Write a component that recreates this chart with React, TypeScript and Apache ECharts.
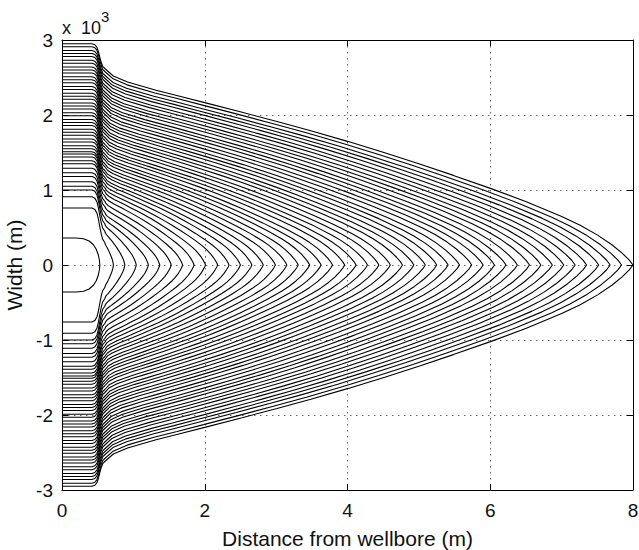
import React, { useEffect, useRef } from "react";
import * as echarts from "echarts";

// Tip position (m) of each width profile, innermost first
const TIP_L = [
  0.53, 0.72, 0.88, 1.04, 1.21, 1.37, 1.53, 1.69, 1.85, 2.01, 2.18, 2.34, 2.5, 2.66,
  2.82, 2.99, 3.15, 3.31, 3.47, 3.63, 3.79, 3.96, 4.12, 4.28, 4.44, 4.6, 4.77, 4.93,
  5.09, 5.25, 5.41, 5.57, 5.74, 5.9, 6.06, 6.22, 6.38, 6.55, 6.71, 6.87, 7.03, 7.19,
  7.35, 7.52, 7.68, 7.84, 8.0,
];
// Width at the wellbore (flat part, x < 0.45 m)
const WELL_W = [
  0.36, 0.76, 0.91, 1.0, 1.05, 1.11, 1.18, 1.23, 1.29, 1.35, 1.39, 1.44, 1.48, 1.51,
  1.55, 1.59, 1.64, 1.68, 1.73, 1.77, 1.81, 1.86, 1.9, 1.94, 1.99, 2.03, 2.08, 2.12,
  2.16, 2.21, 2.25, 2.29, 2.34, 2.38, 2.43, 2.47, 2.51, 2.56, 2.6, 2.64, 2.69, 2.73,
  2.78, 2.82, 2.86, 2.91, 2.95,
];
// Width just past the near-wellbore drop (x = 0.6 m)
const KNEE_W = [
  0.3, 0.3, 0.45, 0.55, 0.63, 0.7, 0.78, 0.85, 0.92, 0.98, 1.03, 1.08, 1.13, 1.17,
  1.22, 1.26, 1.31, 1.35, 1.4, 1.44, 1.48, 1.53, 1.57, 1.61, 1.66, 1.7, 1.75, 1.79,
  1.83, 1.88, 1.92, 1.96, 2.01, 2.05, 2.1, 2.14, 2.18, 2.23, 2.27, 2.31, 2.36, 2.4,
  2.45, 2.49, 2.53, 2.58, 2.62,
];
// Near-wellbore drop: x positions and fraction of the drop completed
const KNEE_X = [0.42, 0.46, 0.49, 0.51, 0.53, 0.55, 0.57, 0.6];
const KNEE_FRAC = [0, 0.04, 0.15, 0.32, 0.55, 0.76, 0.91, 1];
// Normalised profile (s from knee to tip)
const PROFILE_S = [
  0, 0.016, 0.043, 0.097, 0.14, 0.191, 0.26, 0.326, 0.39, 0.461, 0.53, 0.596, 0.66,
  0.73, 0.798, 0.865, 0.9, 0.933, 0.96, 0.98, 0.993, 1,
];
const PROFILE_F = [
  1, 0.962, 0.931, 0.889, 0.86, 0.825, 0.777, 0.73, 0.683, 0.628, 0.571, 0.514, 0.456,
  0.39, 0.322, 0.247, 0.202, 0.152, 0.103, 0.059, 0.025, 0,
];
// Innermost (earliest) profile
const FIRST_X = [0, 0.2, 0.3, 0.38, 0.44, 0.48, 0.51, 0.525, 0.53];
const FIRST_W = [0.36, 0.36, 0.35, 0.32, 0.27, 0.21, 0.13, 0.06, 0];

const X_TICKS = [0, 2, 4, 6, 8];
const Y_TICKS = [-3, -2, -1, 0, 1, 2, 3];
const KNEE_END = 0.6;

function curve(i: number): number[][] {
  let upper: number[][];
  if (i === 0) {
    upper = FIRST_X.map((x, k) => [x, FIRST_W[k]]);
  } else {
    const w0 = WELL_W[i];
    const w1 = KNEE_W[i];
    const L = TIP_L[i];
    upper = [[0, w0]];
    KNEE_X.forEach((x, k) => upper.push([x, w0 - KNEE_FRAC[k] * (w0 - w1)]));
    PROFILE_S.forEach((s, k) => {
      if (k === 0) return;
      upper.push([KNEE_END + s * (L - KNEE_END), w1 * PROFILE_F[k]]);
    });
  }
  const lower = upper
    .slice()
    .reverse()
    .map(([x, w]) => [x, -w]);
  return upper.concat(lower.slice(1));
}

const FONT = "Liberation Sans, Arial, Helvetica, sans-serif";

export default function App() {
  const ref = useRef<HTMLDivElement>(null);
  useEffect(() => {
    document.body.style.margin = "0";
    const chart = echarts.init(ref.current!, null, { renderer: "svg" });
    const series = TIP_L.map((_, i) => ({
      type: "line" as const,
      data: curve(i),
      symbol: "none",
      silent: true,
      xAxisIndex: 0,
      yAxisIndex: 0,
      lineStyle: { color: "#000", width: 1.1 },
      z: 3,
    }));
    const tickStyle = { show: true, inside: true, length: 6, lineStyle: { color: "#000" } };
    const axisLine = { show: true, onZero: false, lineStyle: { color: "#000", width: 1 } };
    const grid = { show: true, lineStyle: { color: "#666", type: [1.5, 4.5] as any, width: 1 } };
    chart.setOption({
      animation: false,
      backgroundColor: "#fff",
      textStyle: { fontFamily: FONT },
      grid: {
        left: 62,
        right: 6,
        top: 40,
        bottom: 60,
        containLabel: false,
        outerBoundsMode: "none",
      },
      xAxis: [
        {
          type: "value",
          min: X_TICKS[0],
          max: X_TICKS[X_TICKS.length - 1],
          interval: 2,
          position: "bottom",
          axisLine,
          axisTick: tickStyle,
          splitLine: grid,
          axisLabel: { color: "#111", fontSize: 19, margin: 11, fontFamily: FONT },
          name: "Distance from wellbore (m)",
          nameLocation: "middle",
          nameGap: 38,
          nameTextStyle: { color: "#111", fontSize: 21, fontFamily: FONT },
        },
        {
          type: "value",
          min: X_TICKS[0],
          max: X_TICKS[X_TICKS.length - 1],
          interval: 2,
          position: "top",
          axisLine,
          axisTick: tickStyle,
          splitLine: { show: false },
          axisLabel: { show: false },
        },
      ],
      yAxis: [
        {
          type: "value",
          min: Y_TICKS[0],
          max: Y_TICKS[Y_TICKS.length - 1],
          interval: 1,
          position: "left",
          axisLine,
          axisTick: tickStyle,
          splitLine: grid,
          axisLabel: { color: "#111", fontSize: 19, margin: 9, fontFamily: FONT },
          name: "Width (m)",
          nameLocation: "middle",
          nameGap: 36,
          nameTextStyle: { color: "#111", fontSize: 21, fontFamily: FONT },
        },
        {
          type: "value",
          min: Y_TICKS[0],
          max: Y_TICKS[Y_TICKS.length - 1],
          interval: 1,
          position: "right",
          axisLine,
          axisTick: tickStyle,
          splitLine: { show: false },
          axisLabel: { show: false },
        },
      ],
      graphic: [
        {
          type: "text",
          left: 62,
          top: 19,
          style: { text: "x  10", fill: "#111", font: `18px ${FONT}` },
        },
        {
          type: "text",
          left: 101,
          top: 9,
          style: { text: "3", fill: "#111", font: `15px ${FONT}` },
        },
      ],
      series,
    });
    return () => chart.dispose();
  }, []);
  return <div ref={ref} style={{ width: 639, height: 550 }} />;
}
